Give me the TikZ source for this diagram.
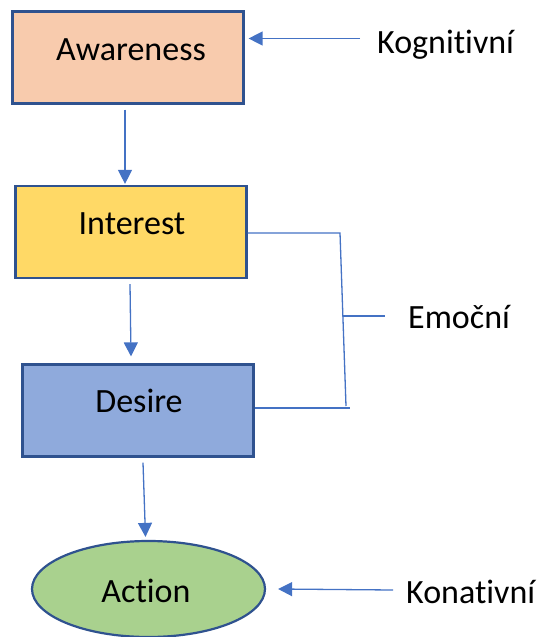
\documentclass[tikz,border=0pt]{standalone}
\usepackage{fontspec}
\setmainfont{Carlito}[Ligatures=NoCommon]
\usetikzlibrary{arrows.meta,shapes.geometric}
\definecolor{edgeblue}{HTML}{2F528F}
\definecolor{lineblue}{HTML}{4472C4}
\definecolor{awfill}{HTML}{F8CBAD}
\definecolor{infill}{HTML}{FFD966}
\definecolor{defill}{HTML}{8FAADC}
\definecolor{acfill}{HTML}{A9D18E}
\tikzset{
  stagebox/.style={draw=edgeblue, line width=2.2pt, rectangle, minimum width=231pt, minimum height=92pt, inner sep=0pt},
  stageoval/.style={draw=edgeblue, line width=2.2pt, ellipse, minimum width=233pt, minimum height=96pt, inner sep=0pt},
  stagetext/.style={font=\fontsize{34}{40}\selectfont, anchor=base, inner sep=0pt},
  sidetext/.style={font=\fontsize{34}{40}\selectfont, anchor=base west, inner sep=0pt},
  flow/.style={draw=lineblue, line width=1.3pt, -{Triangle[length=14pt,width=14pt]}},
  brace/.style={draw=lineblue, line width=1.3pt},
}
\begin{document}
\begin{tikzpicture}[x=1pt,y=-1pt]
\useasboundingbox (0,0) rectangle (543,637);

% stages
\node[stagebox, fill=awfill] (aw) at (128,57.5) {};
\node[stagebox, fill=infill] (in) at (131,232) {};
\node[stagebox, fill=defill] (de) at (138,410.5) {};
\node[stageoval, fill=acfill] (ac) at (148.5,589) {};

\node[stagetext] (awt) at (131,60) {Awareness};
\node[stagetext] (int) at (132,234) {Interest};
\node[stagetext] (det) at (139,412) {Desire};
\node[stagetext] (act) at (146,602) {Action};

% side labels
\node[sidetext] (kog) at (377,53) {Kognitivní};
\node[sidetext] (emo) at (408,328) {Emoční};
\node[sidetext] (kon) at (406,603) {Konativní};

% flow between stages
\draw[flow] ([xshift=-3pt,yshift=-5pt]aw.south) -- ([xshift=-6pt,yshift=1pt]in.north);
\draw[flow] ([xshift=-1pt,yshift=-5pt]in.south) -- ([xshift=-7pt,yshift=7pt]de.north);
\draw[flow] ([xshift=5pt,yshift=-5pt]de.south) -- ([xshift=-3pt,yshift=3pt]ac.north);

% arrows from the side labels
\coordinate (kogstart) at (360,38.5);
\coordinate (konstart) at (393,590);
\draw[flow] (kogstart) -- ([xshift=4pt,yshift=19pt]aw.east);
\draw[flow] (konstart) -- ([xshift=12pt]ac.east);

% bracket joining Interest and Desire
\coordinate (bt) at (340,233);
\coordinate (bb) at (346,406);
\coordinate (bm) at (343,316);
\coordinate (bmend) at (385,316);
\coordinate (bbend) at (350,408);
\draw[brace] (in.east |- bt) -- (bt) -- (bb);
\draw[brace] (de.east |- bbend) -- (bbend);
\draw[brace] (bm) -- (bmend);
\end{tikzpicture}
\end{document}
